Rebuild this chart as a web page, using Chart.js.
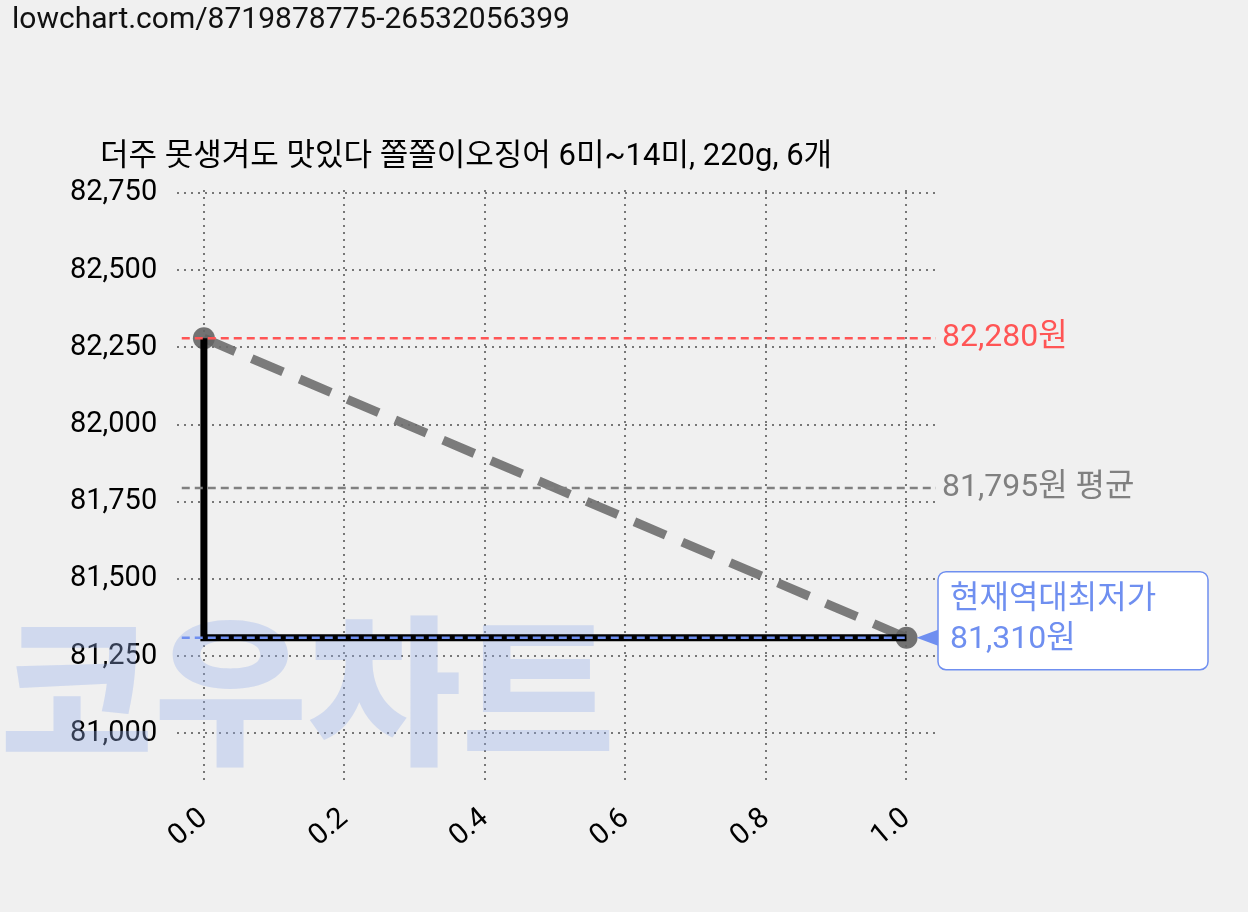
<!DOCTYPE html>
<html>
<head>
<meta charset="utf-8">
<script src="https://cdn.jsdelivr.net/npm/chart.js@4.4.1/dist/chart.umd.min.js"></script>
<style>
  html, body { margin: 0; background: #f0f0f0; }
  #wrap { position: relative; width: 1248px; height: 912px; }
  #url { position: absolute; left: 12px; top: 0; font: 30px "Roboto", sans-serif; color: #111; }
</style>
</head>
<body>
<div id="wrap">
  <div id="url">lowchart.com/8719878775-26532056399</div>
  <canvas id="c" width="1248" height="912"></canvas>
</div>
<script>
const title = "더주 못생겨도 맛있다 쫄쫄이오징어 6미~14미, 220g, 6개";
const xs = [0, 1];
const prices = [82280, 81310];
const maxPrice = 82280;
const avgPrice = 81795;
const minPrice = 81310;
const yTicks = [81000, 81250, 81500, 81750, 82000, 82250, 82500, 82750];
const xTicks = [0, 0.2, 0.4, 0.6, 0.8, 1.0];

const fmt = (v) => v.toLocaleString("en-US");
const font = '"Roboto", "Noto Sans CJK KR", sans-serif';

const decorPlugin = {
  id: "decor",
  beforeDatasetsDraw(chart) {
    const { ctx } = chart;
    ctx.save();
    ctx.fillStyle = "rgba(150,175,235,0.35)";
    ctx.font = `900 170px "Noto Sans CJK KR", sans-serif`;
    ctx.textBaseline = "alphabetic";
    const w = ctx.measureText("코우차트").width;
    ctx.translate(0, 752);
    ctx.scale(615 / w, 0.95);
    ctx.fillText("코우차트", 0, 0);
    ctx.restore();
  },
  afterDatasetsDraw(chart) {
    const { ctx, scales } = chart;
    const x = scales.x, y = scales.y;
    const tx = x.right + 6;
    ctx.save();
    ctx.fillStyle = "#000";
    ctx.font = `31px ${font}`;
    ctx.textBaseline = "alphabetic";
    ctx.fillText(title, 100, 165);
    ctx.font = `32px ${font}`;
    ctx.textBaseline = "middle";
    ctx.fillStyle = "#ff5555";
    ctx.fillText(`${fmt(maxPrice)}원`, tx, y.getPixelForValue(maxPrice));
    ctx.fillStyle = "#808080";
    ctx.fillText(`${fmt(avgPrice)}원 평균`, tx, y.getPixelForValue(avgPrice));
    const py = y.getPixelForValue(minPrice);
    const bx = tx - 4, bw = 270, bh = 98, by = py - 66;
    ctx.fillStyle = "#ffffff";
    ctx.strokeStyle = "#6f8ff0";
    ctx.lineWidth = 1.5;
    ctx.beginPath();
    ctx.roundRect(bx, by, bw, bh, 8);
    ctx.fill();
    ctx.stroke();
    ctx.fillStyle = "#6f8ff0";
    ctx.beginPath();
    ctx.moveTo(x.getPixelForValue(1) + 10, py);
    ctx.lineTo(bx, py - 8);
    ctx.lineTo(bx, py + 8);
    ctx.fill();
    ctx.fillText("현재역대최저가", bx + 12, by + 28);
    ctx.fillText(`${fmt(minPrice)}원`, bx + 12, by + 68);
    ctx.restore();
  },
};

const hline = (v, color, width) => ({
  type: "line",
  data: [{ x: -0.05, y: v }, { x: 1.05, y: v }],
  borderColor: color,
  borderWidth: width,
  borderDash: [8, 5],
  pointRadius: 0,
});

const gridOpts = { color: "#777", lineWidth: 2, drawTicks: false };
const borderOpts = { display: false, dash: [2, 5] };

new Chart(document.getElementById("c"), {
  type: "line",
  plugins: [decorPlugin],
  data: {
    datasets: [
      hline(maxPrice, "#ff5555", 2.5),
      hline(avgPrice, "#808080", 2.5),
      {
        type: "line",
        data: [{ x: -0.05, y: minPrice }, { x: 1, y: minPrice }],
        borderColor: "#6f8ff0",
        borderWidth: 2.5,
        borderDash: [8, 5],
        pointRadius: 0,
      },
      {
        data: xs.map((x, i) => ({ x, y: prices[i] })),
        stepped: "after",
        borderColor: "#000000",
        borderWidth: 7,
        pointRadius: 0,
      },
      {
        data: xs.map((x, i) => ({ x, y: prices[i] })),
        borderColor: "rgba(110,110,110,0.9)",
        borderWidth: 9,
        borderDash: [34, 18],
        pointRadius: 11,
        pointBackgroundColor: "rgba(100,100,100,0.9)",
        pointBorderWidth: 0,
      },
    ],
  },
  options: {
    responsive: false,
    animation: false,
    layout: { padding: { top: 190, right: 312, bottom: 40, left: 50 } },
    plugins: {
      legend: { display: false },
      tooltip: { enabled: false },
    },
    scales: {
      x: {
        type: "linear",
        min: -0.038,
        max: 1.042,
        afterBuildTicks(axis) { axis.ticks = xTicks.map((v) => ({ value: v })); },
        grid: gridOpts,
        border: borderOpts,
        ticks: {
          color: "#000",
          font: { family: font, size: 29 },
          maxRotation: 40,
          minRotation: 40,
          padding: 18,
          callback: (v) => v.toFixed(1),
        },
      },
      y: {
        min: 80838,
        max: 82760,
        afterBuildTicks(axis) { axis.ticks = yTicks.map((v) => ({ value: v })); },
        grid: gridOpts,
        border: borderOpts,
        ticks: {
          color: "#000",
          font: { family: font, size: 29 },
          padding: 20,
          callback: (v) => fmt(v),
        },
      },
    },
  },
});
</script>
</body>
</html>
